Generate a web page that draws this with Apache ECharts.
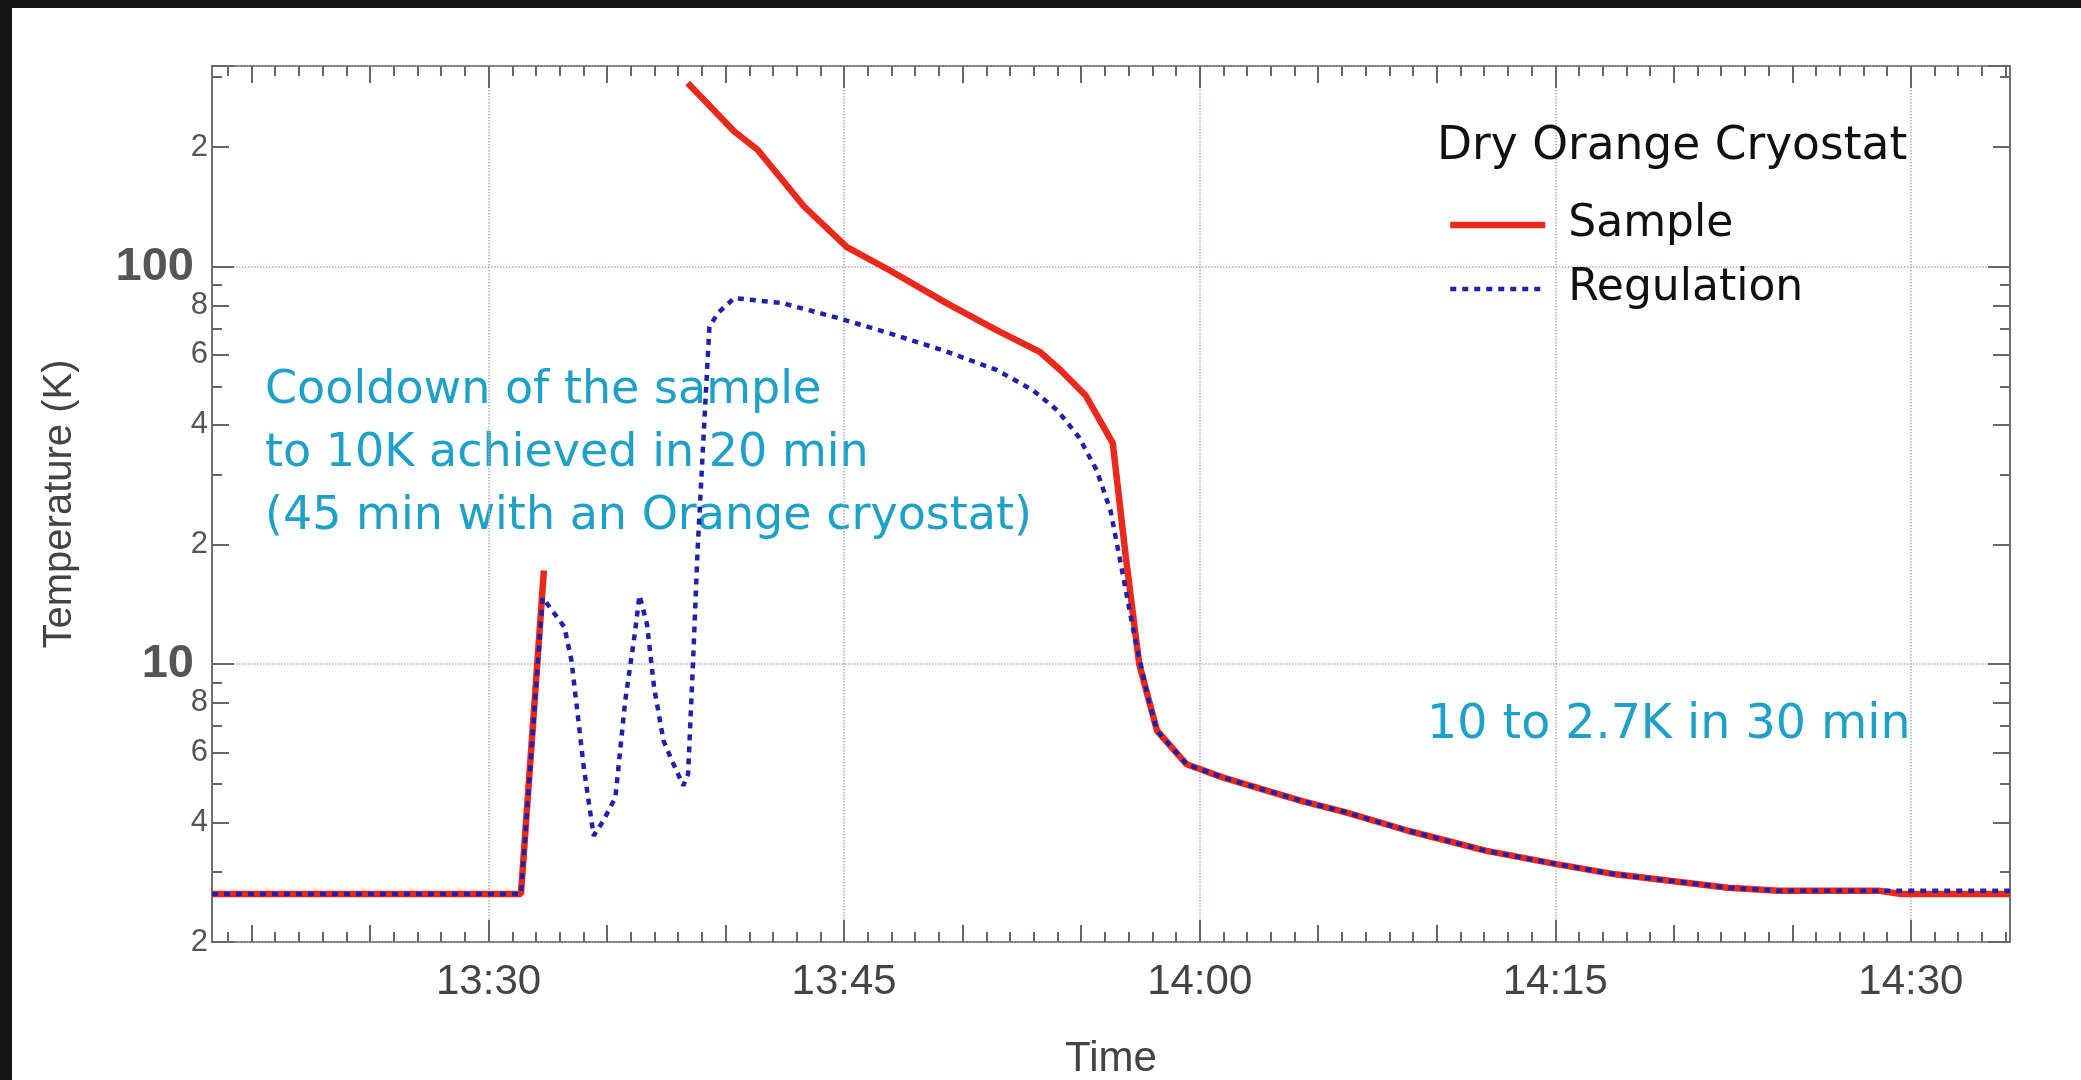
<!DOCTYPE html>
<html>
<head>
<meta charset="utf-8">
<title>Dry Orange Cryostat cooldown</title>
<script src="https://cdn.jsdelivr.net/npm/echarts@6.0.0/dist/echarts.min.js"></script>
<style>
  html, body { margin: 0; padding: 0; background: #141414; width: 2081px; height: 1080px; overflow: hidden; }
  #chart { position: absolute; left: 12px; top: 8px; width: 2069px; height: 1072px; background: #fff; }
</style>
</head>
<body>
<div id="chart"></div>
<script>
// time of day (HH:MM:SS) and temperature in K
const sampleTimes = ['13:18:20', '13:31:22', '13:32:20', '13:35:00', '13:38:24', '13:40:22', '13:41:21', '13:43:18',
  '13:45:07', '13:46:55', '13:49:19', '13:51:26', '13:53:15', '13:54:08', '13:55:11', '13:56:20', '13:56:53',
  '13:57:27', '13:58:12', '13:59:27', '14:00:58', '14:02:37', '14:04:17', '14:06:10', '14:08:47', '14:12:06',
  '14:15:03', '14:17:32', '14:22:17', '14:24:25', '14:28:41', '14:29:37', '14:34:11'];
const sampleK = [2.64, 2.64, 17.2, null, 290, 219, 197, 142,
  112, 98, 81, 69.3, 61.1, 54.9, 47.5, 36, 18.6,
  10, 6.8, 5.6, 5.19, 4.85, 4.53, 4.24, 3.81, 3.39,
  3.14, 2.96, 2.74, 2.69, 2.69, 2.64, 2.64];

const regulationTimes = ['13:18:20', '13:31:22', '13:32:17', '13:33:12', '13:33:30', '13:34:01', '13:34:26', '13:34:50',
  '13:35:21', '13:35:46', '13:36:10', '13:36:22', '13:36:41', '13:36:59', '13:37:23', '13:37:48', '13:38:13',
  '13:38:25', '13:38:37', '13:38:49', '13:39:10', '13:39:19', '13:39:41', '13:40:22', '13:42:24', '13:44:49',
  '13:46:55', '13:49:11', '13:51:26', '13:52:58', '13:54:00', '13:54:54', '13:55:39', '13:56:14', '13:56:37',
  '13:57:14', '13:57:51', '13:58:12', '13:59:27', '14:00:58', '14:02:37', '14:04:17', '14:06:10', '14:08:47',
  '14:12:06', '14:15:03', '14:17:32', '14:22:17', '14:24:25', '14:34:11'];
const regulationK = [2.64, 2.64, 14.7, 12.4, 10.2, 5.5, 3.7, 4.03,
  4.62, 8.1, 11.9, 14.9, 12.6, 8.74, 6.41, 5.61, 4.95,
  5.29, 9.8, 19.3, 48, 70.6, 76.6, 83.4, 81, 74.1,
  68, 61.6, 55, 48.9, 43.5, 37.3, 30.8, 24.4, 18.6,
  11.9, 8.1, 6.8, 5.6, 5.19, 4.85, 4.53, 4.24, 3.81,
  3.39, 3.14, 2.96, 2.74, 2.69, 2.69];

// axes
const timeRange = ['13:18:20', '14:34:11'];
const timeTickLabels = ['13:30', '13:45', '14:00', '14:15', '14:30'];
const tempRange = [2, 320];
const tempLabelledMinor = [2, 4, 6, 8, 20, 40, 60, 80, 200];
const tempOtherMinor = [3, 5, 7, 9, 30, 50, 70, 90, 300];

const toMin = (s) => {
  const p = s.split(':').map(Number);
  return p[0] * 60 + p[1] + (p[2] || 0) / 60;
};
const fmtTime = (v) => {
  const h = Math.floor(v / 60);
  const m = Math.round(v - h * 60);
  return h + ':' + String(m).padStart(2, '0');
};

const xMin = toMin(timeRange[0]);
const xMax = toMin(timeRange[1]);
const majorX = timeTickLabels.map(toMin);
const fiveMinX = [];
const oneMinX = [];
for (let m = Math.ceil(xMin); m <= xMax; m++) {
  oneMinX.push(m);
  if (m % 5 === 0) fiveMinX.push(m);
}
const yLogMin = Math.log10(tempRange[0]);
const yLogMax = Math.log10(tempRange[1]);

const narrow = "'Liberation Sans Narrow', 'Liberation Sans', sans-serif";
const wide = "'DejaVu Sans', 'Noto Sans', sans-serif";
const tickColor = '#666';
const gridColor = '#a9a9d8';
const annotColor = '#1fa0c8';

// tick-only decoration axes (minor ticks on each side of the frame)
function xTickAxis(position, values, len) {
  return {
    type: 'value', position: position, min: xMin, max: xMax,
    axisLine: { show: false },
    axisLabel: { show: false },
    splitLine: { show: false },
    axisTick: { show: true, inside: true, length: len, customValues: values,
      lineStyle: { color: tickColor, width: 2 } }
  };
}
function yTickAxis(position, values, len, withLabels) {
  return {
    type: 'value', position: position, min: yLogMin, max: yLogMax,
    axisLine: { show: false },
    splitLine: { show: false },
    axisTick: { show: true, inside: true, length: len, customValues: values.map(Math.log10),
      lineStyle: { color: tickColor, width: 2 } },
    axisLabel: withLabels ? {
      show: true, customValues: values.map(Math.log10), margin: 4,
      fontFamily: narrow, fontSize: 31, color: '#555',
      formatter: (v) => {
        const n = Math.pow(10, v);
        return String(Math.round(n / Math.pow(10, Math.floor(v + 1e-9))));
      }
    } : { show: false }
  };
}

const chart = echarts.init(document.getElementById('chart'));

const option = {
  animation: false,
  title: {
    text: 'Dry Orange Cryostat',
    left: 1425, top: 116, padding: 0,
    textStyle: { fontFamily: wide, fontSize: 45.5, fontWeight: 'normal', color: '#111' }
  },
  legend: {
    orient: 'vertical',
    left: 1430, top: 187,
    itemWidth: 95, itemHeight: 6, itemGap: 14,
    itemStyle: { opacity: 0 },
    textStyle: { fontFamily: wide, fontSize: 44, color: '#111', lineHeight: 50, padding: [0, 0, 0, 18] },
    data: [
      { name: 'Sample', lineStyle: { width: 6.5 } },
      { name: 'Regulation', lineStyle: { width: 4.5, type: [6, 6] } }
    ]
  },
  grid: {
    left: 200, top: 58, width: 1798, height: 876,
    containLabel: false, outerBoundsMode: 'none',
    show: true, borderColor: '#707070', borderWidth: 2, backgroundColor: 'transparent'
  },
  xAxis: [
    {
      type: 'value', position: 'bottom', min: xMin, max: xMax,
      name: 'Time', nameLocation: 'middle', nameGap: 96,
      nameTextStyle: { fontFamily: narrow, fontSize: 42, color: '#444' },
      axisLine: { show: false },
      axisTick: { show: true, inside: true, length: 22, customValues: majorX,
        lineStyle: { color: tickColor, width: 2 } },
      axisLabel: { customValues: majorX, formatter: fmtTime, margin: 19,
        fontFamily: narrow, fontSize: 42, color: '#444' },
      splitLine: { show: true, lineStyle: { color: gridColor, type: 'dotted', width: 1.5 } }
    },
    xTickAxis('bottom', fiveMinX, 17),
    xTickAxis('bottom', oneMinX, 10),
    xTickAxis('top', majorX, 22),
    xTickAxis('top', fiveMinX, 17),
    xTickAxis('top', oneMinX, 10)
  ],
  yAxis: [
    {
      type: 'log', logBase: 10, position: 'left', min: tempRange[0], max: tempRange[1],
      name: 'Temperature (K)', nameLocation: 'middle', nameGap: 132,
      nameTextStyle: { fontFamily: narrow, fontSize: 40, color: '#444' },
      axisLine: { show: false },
      axisTick: { show: true, inside: true, length: 22, lineStyle: { color: tickColor, width: 2 } },
      axisLabel: {
        margin: 18, fontFamily: "'Liberation Sans', sans-serif", fontSize: 47, fontWeight: 'bold', color: '#555',
        formatter: (v) => (Math.abs(v - 10) < 1e-6 || Math.abs(v - 100) < 1e-6) ? String(Math.round(v)) : ''
      },
      splitLine: { show: true, lineStyle: { color: gridColor, type: 'dotted', width: 1.5 } }
    },
    yTickAxis('left', tempLabelledMinor, 17, true),
    yTickAxis('left', tempOtherMinor, 10, false),
    {
      type: 'log', logBase: 10, position: 'right', min: tempRange[0], max: tempRange[1],
      axisLine: { show: false }, axisLabel: { show: false }, splitLine: { show: false },
      axisTick: { show: true, inside: true, length: 22, lineStyle: { color: tickColor, width: 2 } }
    },
    yTickAxis('right', tempLabelledMinor, 17, false),
    yTickAxis('right', tempOtherMinor, 10, false)
  ],
  series: [
    {
      name: 'Sample',
      type: 'line',
      xAxisIndex: 0, yAxisIndex: 0,
      showSymbol: false, symbol: 'none',
      connectNulls: false,
      color: '#e8291c',
      lineStyle: { color: '#e8291c', width: 6.5 },
      data: sampleTimes.map((t, i) => [toMin(t), sampleK[i]])
    },
    {
      name: 'Regulation',
      type: 'line',
      xAxisIndex: 0, yAxisIndex: 0,
      showSymbol: false, symbol: 'none',
      color: '#2020a8',
      lineStyle: { color: '#2020a8', width: 4.5, type: [6, 6] },
      data: regulationTimes.map((t, i) => [toMin(t), regulationK[i]])
    }
  ],
  graphic: [
    {
      type: 'text', left: 253, top: 352,
      style: {
        text: 'Cooldown of the sample\nto 10K achieved in 20 min\n(45 min with an Orange cryostat)',
        font: '46px ' + wide, lineHeight: 63, fill: annotColor
      }
    },
    {
      type: 'text', left: 1415, top: 686,
      style: { text: '10 to 2.7K in 30 min', font: '47.5px ' + wide, lineHeight: 63, fill: annotColor }
    }
  ]
};

chart.setOption(option);
</script>
</body>
</html>
